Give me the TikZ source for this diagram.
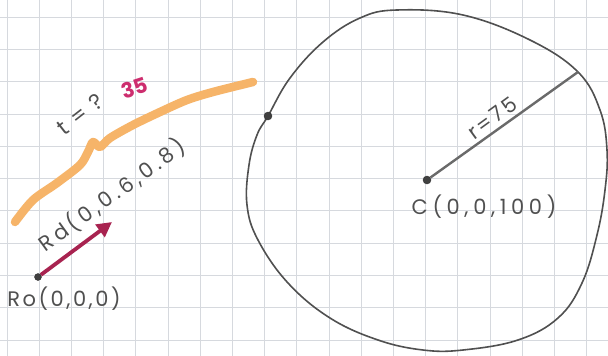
\documentclass[tikz,border=0pt]{standalone}
\usepackage{fontspec}
\setmainfont{Poppins}
\newfontfamily\handfont[LetterSpace=12]{Poppins}
\newfontfamily\handwide[LetterSpace=22]{Poppins}
\newfontfamily\handmid[LetterSpace=18]{Poppins}
\usetikzlibrary{arrows.meta}
\definecolor{gridc}{RGB}{214,217,222}
\definecolor{pencil}{RGB}{80,80,80}
\definecolor{crim}{RGB}{168,35,80}
\definecolor{orng}{RGB}{246,180,105}
\definecolor{mag}{RGB}{205,45,110}
\begin{document}
\begin{tikzpicture}[x=1pt,y=-1pt,
 hand/.style={text=pencil, font=\handfont\fontsize{21}{24}\selectfont, inner sep=0pt},
 dot/.style={circle, fill=pencil!80!black, draw=pencil!60!black, minimum size=8pt, inner sep=0pt},
 gridline/.style={gridc, line width=0.8pt}]
\useasboundingbox (0,0) rectangle (608,356);
\fill[white] (0,0) rectangle (608,356);
\foreach \k in {0,...,18} \draw[gridline] ({7+32.2*\k},0) -- ({7+32.2*\k},356);
\foreach \k in {0,...,10} \draw[gridline] (0,{17+32.3*\k}) -- (608,{17+32.3*\k});
% sphere outline
\draw[pencil, line width=1.6pt] plot[smooth cycle, tension=0.65] coordinates {(397,10) (463,15) (530,40) (578,72) (600,110) (607,150) (605,190) (597,235) (582,283) (558,318) (518,340) (463,350) (423,350) (378,340) (330,318) (288,283) (258,240) (247,205) (249,165) (257,135) (268,116) (290,78) (323,42) (360,18)};
% centre and radius
\node[dot] (c) at (427,180) {};
\coordinate (rim) at (578,72);
\draw[pencil!85, line width=2.4pt] (c) -- (rim);
\node[hand, rotate=36] (rlabel) at (492,118) {r=75};
\node[hand, font=\handwide\fontsize{21}{24}\selectfont] (clabel) at (484,207) {C(0,0,100)};
% hit point on sphere
\node[dot] (hit) at (268,116) {};
% ray
\node[dot, minimum size=7pt] (ro) at (38,277) {};
\coordinate (rdtip) at (112,222);
\draw[crim, line width=3.8pt, -{Triangle[length=15pt,width=15pt]}] (ro) -- (rdtip);
\node[hand] (rolabel) at (64,299) {Ro(0,0,0)};
\node[hand, font=\handmid\fontsize{21}{24}\selectfont, rotate=36] (rdlabel) at (112,195) {Rd(0,0.6,0.8)};
% orange brace
\draw[orng, line width=8.5pt, line cap=round, line join=round] plot[smooth, tension=0.5] coordinates {(15,222) (33,200) (57,183) (80,165) (88,152) (93,142) (100,147) (110,138) (133,125) (160,112) (187,100) (213,92) (253,82)};
\node[hand, font=\handfont\fontsize{22}{25}\selectfont, rotate=38] (tlabel) at (80,114) {t = ?};
\node[text=mag, font=\fontsize{21}{24}\selectfont\bfseries, rotate=18, inner sep=0pt] (tval) at (135,88) {35};
\end{tikzpicture}
\end{document}
